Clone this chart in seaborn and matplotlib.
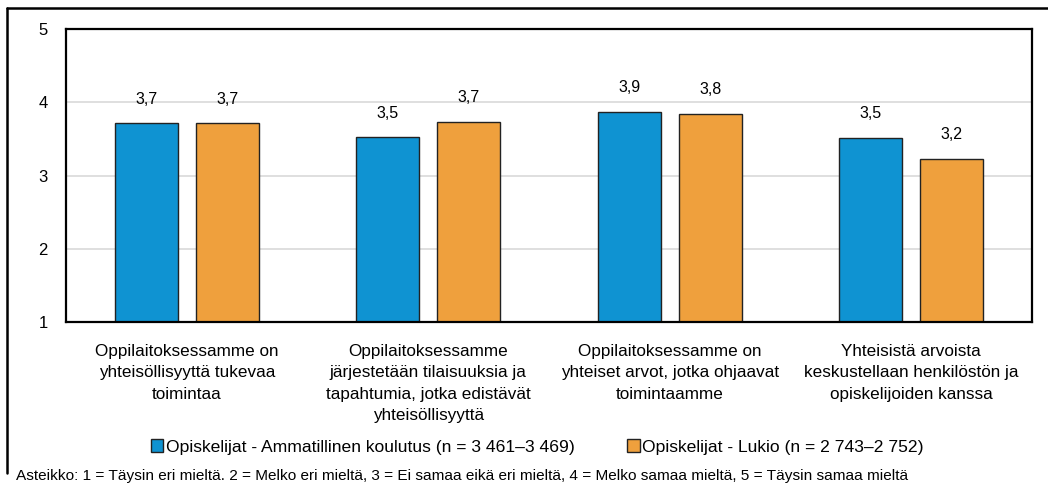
import matplotlib
matplotlib.use("Agg")
import matplotlib.pyplot as plt
import matplotlib.patches as mpatches
from matplotlib.lines import Line2D
import seaborn as sns
import pandas as pd

# data
categories = [
    "Oppilaitoksessamme on\nyhteisöllisyyttä tukevaa\ntoimintaa",
    "Oppilaitoksessamme\njärjestetään tilaisuuksia ja\ntapahtumia, jotka edistävät\nyhteisöllisyyttä",
    "Oppilaitoksessamme on\nyhteiset arvot, jotka ohjaavat\ntoimintaamme",
    "Yhteisistä arvoista\nkeskustellaan henkilöstön ja\nopiskelijoiden kanssa",
]
series_names = [
    "Opiskelijat - Ammatillinen koulutus (n = 3 461–3 469)",
    "Opiskelijat - Lukio (n = 2 743–2 752)",
]
ammatillinen = [3.71, 3.52, 3.87, 3.51]
lukio = [3.71, 3.73, 3.84, 3.23]
colors = ["#0F93D2", "#EFA03D"]
footnote = ("Asteikko: 1 = Täysin eri mieltä. 2 = Melko eri mieltä, 3 = Ei samaa eikä eri mieltä, "
            "4 = Melko samaa mieltä, 5 = Täysin samaa mieltä")

df = pd.DataFrame({
    "kysymys": categories * 2,
    "ryhma": [series_names[0]] * 4 + [series_names[1]] * 4,
    "arvo": ammatillinen + lukio,
})

sns.set_style("white")
plt.rcParams["font.family"] = ["Liberation Sans", "DejaVu Sans"]
plt.rcParams["text.color"] = "black"
plt.rcParams["xtick.color"] = "black"
plt.rcParams["ytick.color"] = "black"

fig = plt.figure(figsize=(10.48, 4.84), dpi=100)
ax = fig.add_axes([66 / 1048, 1 - 322 / 484, (1032 - 66) / 1048, (322 - 29) / 484])

sns.barplot(data=df, x="kysymys", y="arvo", hue="ryhma", palette=colors,
            saturation=1, width=0.672, gap=0.22, edgecolor="#222222", linewidth=1.0,
            ax=ax, legend=False)

ax.set_ylim(1, 5)
ax.set_yticks([1, 2, 3, 4, 5])
ax.set_xlim(-0.5, 3.5)
ax.yaxis.grid(True, color="#d9d9d9", linewidth=1.2)
ax.set_axisbelow(True)
for s in ax.spines.values():
    s.set_color("black")
    s.set_linewidth(1.6)
ax.set_xlabel("")
ax.set_ylabel("")
ax.tick_params(axis="y", length=0, pad=13, labelsize=12)
ax.tick_params(axis="x", length=0, pad=16, labelsize=12.3)
for lbl in ax.get_xticklabels():
    lbl.set_linespacing(1.52)

for cont in ax.containers:
    ax.bar_label(cont, labels=[f"{v:.1f}".replace(".", ",") for v in cont.datavalues],
                 padding=12, fontsize=11.5)

handles = [mpatches.Patch(facecolor=c, edgecolor="#222222", linewidth=1.0) for c in colors]
fig.legend(handles, series_names, loc="center", bbox_to_anchor=(0.513, 1 - 447 / 484),
           ncol=2, frameon=False, fontsize=12.6, handlelength=0.7, handleheight=0.7,
           handletextpad=0.15, columnspacing=3.0, borderpad=0)

fig.text(16 / 1048, 1 - 476 / 484, footnote, fontsize=11.1, va="center", ha="left")

# outer chart border: top and left edges only show in the picture
fig.add_artist(Line2D([7 / 1048, 7 / 1048], [1 - 473 / 484, 1 - 8 / 484],
                      transform=fig.transFigure, color="black", linewidth=1.8))
fig.add_artist(Line2D([7 / 1048, 1.0], [1 - 8 / 484, 1 - 8 / 484],
                      transform=fig.transFigure, color="black", linewidth=1.8))

fig.savefig("out.png", dpi=100)
